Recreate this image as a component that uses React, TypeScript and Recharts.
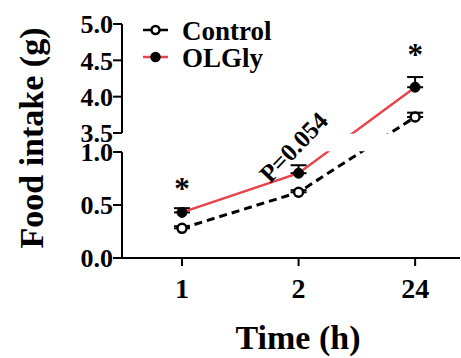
import React from "react";
import {
  LineChart,
  Line,
  XAxis,
  YAxis,
  ErrorBar,
  ReferenceLine,
  ReferenceArea,
  Legend,
  LabelList,
  Label,
} from "recharts";

// ---- data ----
const categories = ["1", "2", "24"];
const controlValues = [0.28, 0.62, 3.72];
const controlErrors = [0.02, 0.02, 0.06];
const olglyValues = [0.43, 0.8, 4.13];
const olglyErrors = [0.04, 0.075, 0.14];
const significance = ["*", "P=0.054", "*"];
const yTickValues = [0, 0.5, 1.0, 3.5, 4.0, 4.5, 5.0];
const yTickLabels = ["0.0", "0.5", "1.0", "3.5", "4.0", "4.5", "5.0"];

// ---- broken y-axis mapping ----
const LOW_TOP = 1.0;
const HIGH_BOTTOM = 3.5;
const HIGH_TOP = 5.0;
const GAP = 0.179;
const HIGH_K = 0.6855;
const toDisplay = (v: number) =>
  v <= LOW_TOP ? v : LOW_TOP + GAP + (v - HIGH_BOTTOM) * HIGH_K;
const errToDisplay = (v: number, e: number) => (v <= LOW_TOP ? e : e * HIGH_K);

const X_MIN = -0.515;
const X_MAX = 2.385;
const Y_MAX = toDisplay(HIGH_TOP);

const data = categories.map((c, i) => ({
  idx: i,
  control: toDisplay(controlValues[i]),
  controlErr: [0, errToDisplay(controlValues[i], controlErrors[i])],
  olgly: toDisplay(olglyValues[i]),
  olglyErr: [0, errToDisplay(olglyValues[i], olglyErrors[i])],
  sig: significance[i],
}));

const FONT = "Liberation Serif, Times New Roman, DejaVu Serif, serif";
const RED = "#e8434b";

const textStyle = (size: number): React.CSSProperties => ({
  fontFamily: FONT,
  fontWeight: 700,
  fontSize: size,
  fill: "#000",
});

const renderSig = (props: any) => {
  const x = props.x ?? props.viewBox?.x;
  const y = props.y ?? props.viewBox?.y;
  const value = props.value;
  const index = props.index;
  if (!value) return null;
  if (value === "*") {
    const off = index === 0 ? 13 : 22;
    return (
      <text x={x} y={y - off} textAnchor="middle" style={textStyle(31)}>
        {value}
      </text>
    );
  }
  const cx = x - 5;
  const cy = y - 26;
  return (
    <text
      x={cx}
      y={cy}
      textAnchor="middle"
      dominantBaseline="central"
      style={textStyle(25)}
      transform={`rotate(-46, ${cx}, ${cy})`}
    >
      {value}
    </text>
  );
};

const renderLegend = (props: any) => {
  const payload = props.payload || [];
  return (
    <svg width={170} height={62} style={{ display: "block" }}>
      {payload.map((p: any, i: number) => (
        <g key={p.value} transform={`translate(0, ${i * 27})`}>
          <line x1={3} x2={28} y1={16} y2={16} stroke={p.color} strokeWidth={2.5} />
          <circle
            cx={15.5}
            cy={16}
            r={4}
            fill={i === 0 ? "#fff" : "#000"}
            stroke="#000"
            strokeWidth={2.5}
          />
          <text x={42} y={26} style={textStyle(27)}>
            {p.value}
          </text>
        </g>
      ))}
    </svg>
  );
};

export default function App() {
  return (
    <div style={{ position: "absolute", left: 0, top: 0, background: "#fff", fontFamily: FONT }}>
      <LineChart
        width={461}
        height={358}
        data={data}
        margin={{ top: 24, right: 1, bottom: 0, left: 0 }}
        style={{ fontFamily: FONT }}
      >
        <XAxis
          dataKey="idx"
          type="number"
          domain={[X_MIN, X_MAX]}
          ticks={[0, 1, 2]}
          tickFormatter={(v: number) => categories[v]}
          allowDataOverflow
          height={100}
          axisLine={{ stroke: "#000", strokeWidth: 2 }}
          tickLine={{ stroke: "#000", strokeWidth: 2 }}
          tickSize={8}
          tickMargin={12}
          tick={{ style: textStyle(28) }}
        >
          <Label
            value="Time (h)"
            position="insideBottom"
            offset={9}
            dx={7}
            style={textStyle(34)}
          />
        </XAxis>
        <YAxis
          type="number"
          domain={[0, Y_MAX]}
          ticks={yTickValues.map(toDisplay)}
          tickFormatter={(_v: number, i: number) => yTickLabels[i]}
          interval={0}
          allowDataOverflow
          width={122}
          axisLine={false}
          tickLine={{ stroke: "#000", strokeWidth: 2 }}
          tickSize={9}
          tickMargin={0}
          tick={{ style: textStyle(26) }}
          label={{
            content: (p: any) => {
              const vb = p.viewBox || { x: 0, y: 24, width: 122, height: 234 };
              const cx = vb.x + 31;
              const cy = vb.y + vb.height / 2 - 3;
              return (
                <text
                  x={cx}
                  y={cy}
                  textAnchor="middle"
                  dominantBaseline="central"
                  transform={`rotate(-90, ${cx}, ${cy})`}
                  style={textStyle(34)}
                >
                  Food intake (g)
                </text>
              );
            },
          }}
        />
        <Legend
          layout="horizontal"
          verticalAlign="middle"
          align="center"
          wrapperStyle={{ left: 140, top: 14, width: 170 }}
          content={renderLegend}
        />
        <Line
          name="Control"
          dataKey="control"
          stroke="#000"
          strokeWidth={3}
          strokeDasharray="8 5"
          isAnimationActive={false}
          dot={{ r: 4.5, fill: "#fff", stroke: "#000", strokeWidth: 2.5, strokeDasharray: "none" }}
        >
          <ErrorBar dataKey="controlErr" width={8} strokeWidth={2} stroke="#000" direction="y" />
        </Line>
        <Line
          name="OLGly"
          dataKey="olgly"
          stroke={RED}
          strokeWidth={2.5}
          isAnimationActive={false}
          dot={{ r: 5, fill: "#000", stroke: "#000", strokeWidth: 1 }}
        >
          <ErrorBar dataKey="olglyErr" width={8} strokeWidth={2} stroke="#000" direction="y" />
          <LabelList dataKey="sig" content={renderSig} />
        </Line>
        <ReferenceArea
          x1={X_MIN}
          x2={X_MAX}
          y1={LOW_TOP + 0.006}
          y2={LOW_TOP + GAP - 0.006}
          fill="#fff"
          fillOpacity={1}
          stroke="none"
          ifOverflow="visible"
          zIndex={1000}
        />
        <ReferenceLine
          segment={[
            { x: X_MIN, y: 0 },
            { x: X_MIN, y: toDisplay(LOW_TOP) },
          ]}
          stroke="#000"
          strokeWidth={2}
          ifOverflow="visible"
        />
        <ReferenceLine
          segment={[
            { x: X_MIN, y: toDisplay(HIGH_BOTTOM) },
            { x: X_MIN, y: toDisplay(HIGH_TOP) },
          ]}
          stroke="#000"
          strokeWidth={2}
          ifOverflow="visible"
        />
      </LineChart>
    </div>
  );
}
